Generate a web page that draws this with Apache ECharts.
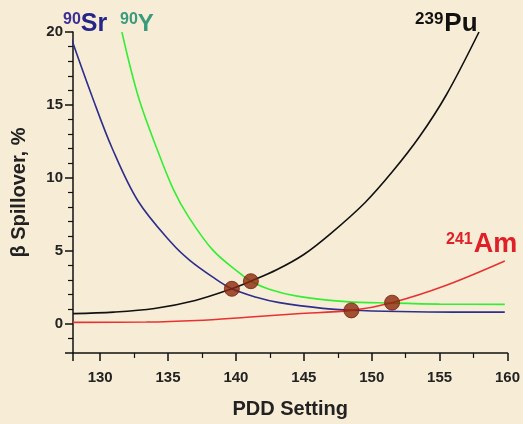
<!DOCTYPE html>
<html><head><meta charset="utf-8">
<script src="https://cdn.jsdelivr.net/npm/echarts@6/dist/echarts.min.js"></script>
<style>html,body{margin:0;padding:0;background:#f7edd6;}#c{width:523px;height:424px;}</style>
</head><body><div id="c"></div>
<script>
// Data
const srData = [[127.9,19.5],[129.4,15.6],[130.9,12.0],[132.8,8.4],[135.3,5.5],[136.6,4.35],[138.3,3.2],[139.7,2.4],[141.5,1.82],[143.2,1.45],[146.4,1.06],[148.5,0.93],[152,0.84],[156,0.8],[159.8,0.8]];
const yData = [[131.6,20],[132.8,15.6],[134.2,11.95],[135.4,9.2],[136.5,7.35],[138.3,5.05],[140.3,3.45],[141.1,2.92],[142.5,2.35],[144.5,1.9],[148.1,1.52],[151.5,1.42],[155,1.35],[159.8,1.33]];
const puData = [[128,0.7],[131,0.8],[134,1.05],[137,1.6],[139.7,2.4],[141.1,2.92],[143,3.7],[145,4.75],[147,6.2],[149.5,8.3],[151.5,10.4],[153.5,12.8],[155.5,15.7],[157.9,20]];
const amData = [[128,0.1],[133.4,0.12],[137.1,0.23],[140.8,0.45],[144.5,0.69],[148.5,0.92],[151.5,1.45],[155.5,2.64],[159.8,4.3]];
const crossPoints = [[139.7,2.4],[141.1,2.92],[148.5,0.92],[151.5,1.45]];
const xRange = [128, 160];
const yRange = [-2, 20];

const font = 'Liberation Sans, Arial, sans-serif';
const chart = echarts.init(document.getElementById('c'), null, {renderer:'canvas'});
const lineS = (name, data, color) => ({
  name, type:'line', data, smooth:0.35, showSymbol:false, symbol:'none',
  lineStyle:{color, width:1.6}, z:2, silent:true
});
chart.setOption({
  backgroundColor:'#f7edd6',
  animation:false,
  grid:{left:73, right:12, top:32, bottom:71, containLabel:false},
  xAxis:{
    type:'value', min:xRange[0], max:xRange[1], splitNumber:6,
    name:'PDD Setting', nameLocation:'middle', nameGap:46,
    nameTextStyle:{fontFamily:font, fontWeight:'bold', fontSize:20, color:'#222'},
    axisLine:{show:true, onZero:false, lineStyle:{color:'#111', width:1.5}},
    axisTick:{show:true, inside:false, length:8, lineStyle:{color:'#111', width:1.5}},
    minorTick:{show:true, splitNumber:2, length:5, lineStyle:{color:'#111', width:1.2}},
    axisLabel:{showMinLabel:false, margin:17, fontFamily:font, fontWeight:'bold', fontSize:15, color:'#222'},
    splitLine:{show:false}
  },
  yAxis:{
    type:'value', min:yRange[0], max:yRange[1], splitNumber:5,
    name:'β Spillover, %', nameLocation:'middle', nameGap:44, nameRotate:90,
    nameTextStyle:{fontFamily:font, fontWeight:'bold', fontSize:20, color:'#222'},
    axisLine:{show:true, onZero:false, lineStyle:{color:'#111', width:1.5}},
    axisTick:{show:true, inside:false, length:8, lineStyle:{color:'#111', width:1.5}},
    minorTick:{show:true, splitNumber:5, length:5, lineStyle:{color:'#111', width:1.2}},
    axisLabel:{showMinLabel:false, margin:10, fontFamily:font, fontWeight:'bold', fontSize:15, color:'#222'},
    splitLine:{show:false}
  },
  series:[
    lineS('90Sr', srData, '#2e2e8c'),
    lineS('90Y', yData, '#33ee33'),
    lineS('239Pu', puData, '#111111'),
    lineS('241Am', amData, '#e83232'),
    {name:'cross', type:'scatter', data:crossPoints, symbolSize:15, z:5, silent:true,
     itemStyle:{color:'#8a280c', borderColor:'#76200a', borderWidth:1}}
  ],
  graphic:[
    {type:'text', left:63, top:12, style:{text:'{s|90}{m|Sr}', fontFamily:font,
      rich:{s:{fontSize:16, fontWeight:'bold', fill:'#3b2f96', padding:[0,0,9,0]}, m:{fontSize:25, fontWeight:'bold', fill:'#26258a'}}}},
    {type:'text', left:120, top:12, style:{text:'{s|90}{m|Y}', fontFamily:font,
      rich:{s:{fontSize:16, fontWeight:'bold', fill:'#3a9a7c', padding:[0,0,9,0]}, m:{fontSize:24, fontWeight:'bold', fill:'#3a9a7c'}}}},
    {type:'text', left:415, top:11, style:{text:'{s|239}{m|Pu}', fontFamily:font,
      rich:{s:{fontSize:17, fontWeight:'bold', fill:'#111', padding:[0,1,9,0]}, m:{fontSize:26, fontWeight:'bold', fill:'#111'}}}},
    {type:'text', left:446, top:231, style:{text:'{s|241}{m|Am}', fontFamily:font,
      rich:{s:{fontSize:16, fontWeight:'bold', fill:'#e02028', padding:[0,1,9,0]}, m:{fontSize:27, fontWeight:'bold', fill:'#e02028'}}}}
  ]
});
</script></body></html>
